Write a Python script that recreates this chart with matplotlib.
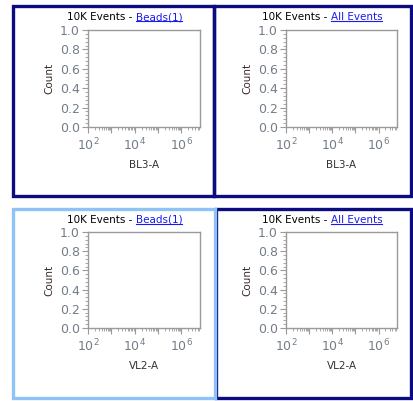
import matplotlib
matplotlib.use("Agg")
import math
import matplotlib.pyplot as plt
from matplotlib.patches import Rectangle
from matplotlib.lines import Line2D
from matplotlib.ticker import LogLocator, AutoMinorLocator, FuncFormatter, NullFormatter

plt.rcParams['font.family'] = ['DejaVu Sans']

# panel contents (row by row)
gate_names = ["Beads(1)", "All Events", "Beads(1)", "All Events"]
x_params = ["BL3-A", "BL3-A", "VL2-A", "VL2-A"]
event_label = "10K Events - "
y_ticks = [0.0, 0.2, 0.4, 0.6, 0.8, 1.0]
x_label_decades = [2, 4, 6]

W, H = 413, 401
fig = plt.figure(figsize=(W / 100, H / 100), dpi=100)

navy = "#0c0c80"
light = "#8fc3f5"

# outer panel frames (pixels: x0, y0 top, x1, y1 bottom, color)
frames = [(13, 6, 214, 196, navy), (214, 6, 411, 196, navy),
          (216, 209, 411, 398, navy), (13, 209, 215, 398, light)]
for x0, y0, x1, y1, c in frames:
    fig.patches.append(Rectangle((x0 / W, 1 - y1 / H), (x1 - x0) / W, (y1 - y0) / H,
                                 transform=fig.transFigure, fill=False,
                                 edgecolor=c, linewidth=2.4))

# axes boxes in pixels (left, top, right, bottom)
boxes = [(88, 30, 200, 127), (286, 30, 397, 127),
         (88, 232, 200, 328), (286, 232, 397, 328)]
title_pos = [(67, 17), (262, 17), (67, 220), (262, 220)]

tick_col = "#737d88"
frame_col = "#9a9a9a"

def fmt(v, pos):
    e = round(math.log10(v))
    if e in x_label_decades:
        return r"$10^{%d}$" % e
    return ""

texts = []
for i, (l, t, r, b) in enumerate(boxes):
    ax = fig.add_axes([l / W, 1 - b / H, (r - l) / W, (b - t) / H])
    ax.set_xscale("log")
    ax.set_xlim(10 ** 2, 10 ** 6.8)
    ax.set_ylim(0, 1)
    ax.set_yticks(y_ticks)
    ax.set_yticklabels(["%.1f" % v for v in y_ticks])
    ax.yaxis.set_minor_locator(AutoMinorLocator(5))
    ax.xaxis.set_major_locator(LogLocator(base=10, numticks=10))
    ax.xaxis.set_major_formatter(FuncFormatter(fmt))
    ax.xaxis.set_minor_locator(LogLocator(base=10, subs=range(2, 10), numticks=20))
    ax.xaxis.set_minor_formatter(NullFormatter())
    ax.tick_params(which="major", direction="out", length=4, width=0.8,
                   color=frame_col, labelcolor=tick_col, labelsize=9, pad=2)
    ax.tick_params(which="minor", direction="out", length=2, width=0.6, color=frame_col)
    ax.tick_params(axis="x", which="major", pad=3)
    for s in ax.spines.values():
        s.set_color(frame_col)
        s.set_linewidth(1.0)
    ax.set_ylabel("Count", fontsize=7.5, color="#3a2a2a", labelpad=4)
    ax.set_xlabel(x_params[i], fontsize=7.5, color="#333333", labelpad=5)

    tx, ty = title_pos[i]
    t1 = fig.text(tx / W, 1 - ty / H, event_label, fontsize=7.5, color="black",
                  ha="left", va="center")
    t2 = ax.annotate(gate_names[i], xy=(1, 0), xycoords=t1, fontsize=7.5,
                     color="#1a1aee", ha="left", va="bottom")
    texts.append(t2)

fig.canvas.draw()
renderer = fig.canvas.get_renderer()
for t2 in texts:
    bb = t2.get_window_extent(renderer)
    y = bb.y0 + 1.5
    fig.lines.append(Line2D([bb.x0 / W, bb.x1 / W], [y / H, y / H],
                            transform=fig.transFigure, color="#1a1aee", linewidth=0.8))

fig.savefig("out.png", dpi=100)
